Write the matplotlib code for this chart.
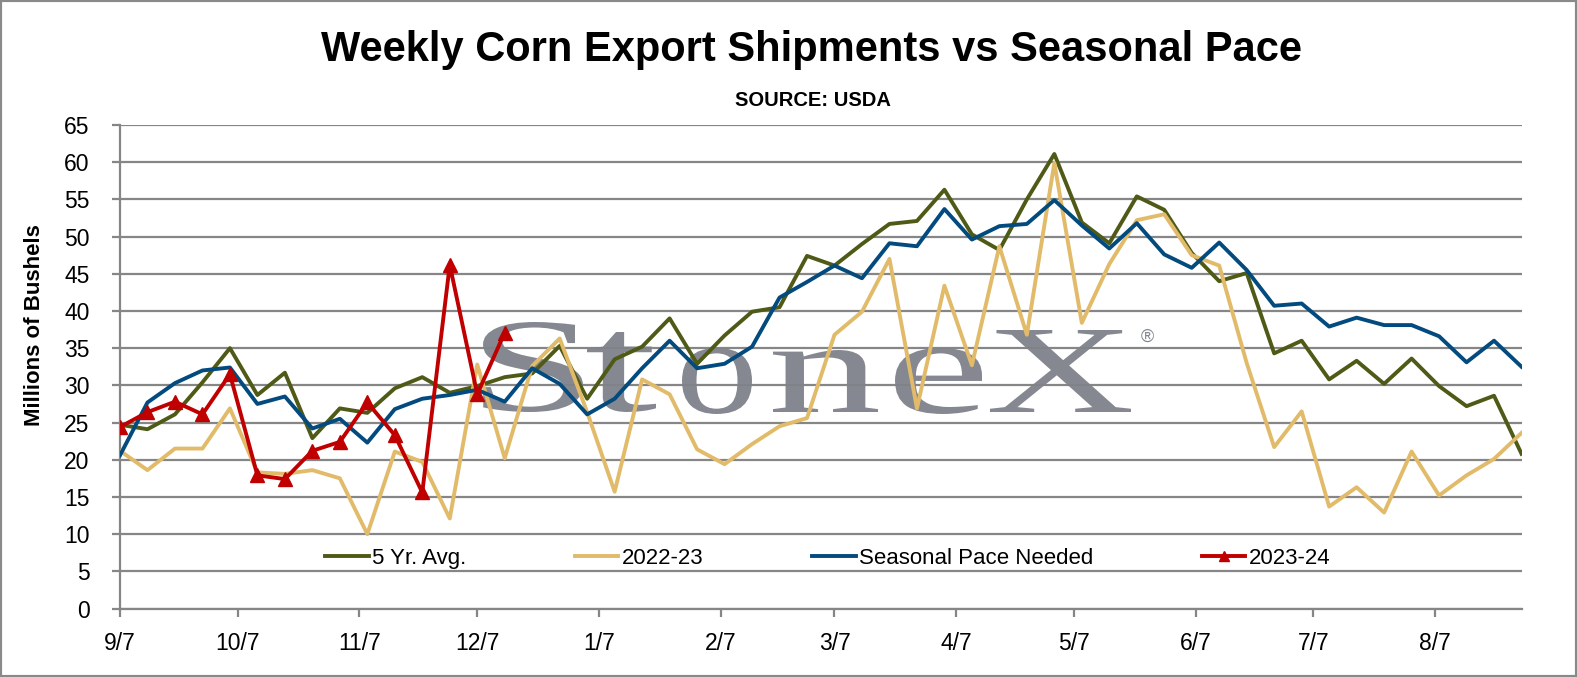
import numpy as np
import pandas as pd
import matplotlib
matplotlib.use("Agg")
import matplotlib.pyplot as plt
import matplotlib.dates as mdates
from matplotlib.textpath import TextPath
from matplotlib.patches import PathPatch, Rectangle
from matplotlib.font_manager import FontProperties
from matplotlib.transforms import Affine2D, IdentityTransform

plt.rcParams["font.family"] = ["Liberation Sans", "DejaVu Sans"]

# weekly marketing-year dates, 9/7 .. 8/29
weeks = pd.date_range("2023-09-07", periods=52, freq="7D")

avg_5yr = [24.7, 24.1, 26.1, 30.4, 35.0, 28.7, 31.7, 22.9, 26.9, 26.3,
           29.6, 31.1, 29.0, 29.9, 31.1, 31.6, 35.3, 28.2, 33.5, 35.2,
           39.0, 32.9, 36.7, 39.9, 40.5, 47.4, 46.1, 49.0, 51.7, 52.1,
           56.3, 50.3, 48.2, 55.0, 61.1, 51.9, 49.1, 55.4, 53.6, 47.8,
           44.0, 45.1, 34.3, 36.0, 30.8, 33.3, 30.2, 33.6, 29.9, 27.2,
           28.6, 20.8]

my_2022_23 = [21.2, 18.6, 21.5, 21.5, 26.9, 18.3, 18.1, 18.6, 17.5, 10.0,
              21.1, 19.7, 12.1, 32.8, 20.2, 32.6, 36.3, 26.4, 15.7, 30.8,
              28.8, 21.4, 19.4, 22.1, 24.5, 25.6, 36.8, 39.9, 47.0, 26.9,
              43.4, 32.7, 48.7, 36.8, 59.9, 38.4, 46.3, 52.2, 53.0, 47.5,
              46.1, 33.0, 21.7, 26.5, 13.7, 16.3, 12.9, 21.1, 15.2, 17.9,
              20.1, 23.6]

pace_needed = [20.6, 27.7, 30.3, 32.0, 32.4, 27.5, 28.5, 24.2, 25.5, 22.3,
               26.8, 28.2, 28.7, 29.4, 27.8, 32.3, 30.2, 26.1, 28.2, 32.3,
               36.0, 32.3, 32.9, 35.2, 41.8, 43.9, 46.1, 44.4, 49.1, 48.7,
               53.7, 49.6, 51.4, 51.7, 54.9, 51.5, 48.4, 51.8, 47.6, 45.8,
               49.2, 45.5, 40.7, 41.0, 37.9, 39.1, 38.1, 38.1, 36.6, 33.1,
               36.0, 32.5]

my_2023_24 = [24.4, 26.4, 27.8, 26.1, 31.5, 17.9, 17.4, 21.2, 22.4, 27.7,
              23.3, 15.6, 46.2, 28.8, 37.1]

W, H = 1577, 677
fig = plt.figure(figsize=(W / 100, H / 100), dpi=100)
ax = fig.add_axes([120 / W, 1 - 608.5 / H, (1521.5 - 120) / W, (608.5 - 125) / H])

grid_c = "#868686"
ax.set_ylim(0, 65)
ax.set_yticks(np.arange(0, 66, 5))
ax.set_xlim(weeks[0], weeks[-1])
ax.xaxis.set_major_locator(mdates.MonthLocator(bymonthday=7))
ax.xaxis.set_major_formatter(plt.FuncFormatter(
    lambda v, p: "{}/{}".format(mdates.num2date(v).month, mdates.num2date(v).day)))

ax.grid(axis="y", color=grid_c, linewidth=1.6, zorder=0)
ax.set_axisbelow(True)
for s in ["top", "right"]:
    ax.spines[s].set_visible(False)
for s in ["left", "bottom"]:
    ax.spines[s].set_color(grid_c)
    ax.spines[s].set_linewidth(1.6)
ax.tick_params(axis="y", length=6, width=1.6, color=grid_c, pad=16, labelsize=16.5)
ax.tick_params(axis="x", length=6, width=1.6, color=grid_c, pad=11, labelsize=16.5)

lw = 2.8
ax.plot(weeks, avg_5yr, color="#4F5A16", lw=lw, label="5 Yr. Avg.", zorder=3)
ax.plot(weeks, my_2022_23, color="#E2BB6A", lw=lw, label="2022-23", zorder=3)
ax.plot(weeks, pace_needed, color="#034A7E", lw=lw, label="Seasonal Pace Needed", zorder=3)
ax.plot(weeks[:len(my_2023_24)], my_2023_24, color="#C00000", lw=lw,
        marker="^", markersize=10, label="2023-24", zorder=4)

ax.legend(loc="center", bbox_to_anchor=(0.505, 0.104), ncol=4, frameon=False,
          fontsize=16, handlelength=1.95, handletextpad=0.15, columnspacing=4.9,
          markerscale=0.7)

# StoneX watermark, letter by letter (pixel coords)
wm_c = "#7F828A"
serif = FontProperties(family="Liberation Serif")
letters = [("S", 483, 583, 412, 90), ("t", 587, 656, 412, 80),
           ("o", 682, 752, 414, 66), ("n", 773, 878, 412, 62),
           ("e", 895, 982, 414, 66), ("X", 990, 1131, 412, 82)]
for ch, x0, x1, yb, hh in letters:
    tp = TextPath((0, 0), ch, size=100, prop=serif)
    bb = tp.get_extents()
    tr = (Affine2D().translate(-bb.x0, -bb.y0)
          .scale((x1 - x0) / bb.width, hh / bb.height)
          .translate(x0, H - yb))
    ax.add_patch(PathPatch(tr.transform_path(tp), transform=IdentityTransform(),
                           facecolor=wm_c, edgecolor="none", alpha=0.95,
                           zorder=2, clip_on=False))
fig.text(1147 / W, 1 - 337 / H, "\u00ae", color=wm_c, fontsize=13,
         ha="center", va="center")

fig.text(811 / W, 1 - 50 / H, "Weekly Corn Export Shipments vs Seasonal Pace",
         ha="center", va="center", fontsize=30, fontweight="bold")
fig.text(813 / W, 1 - 100 / H, "SOURCE: USDA", ha="center", va="center",
         fontsize=14.5, fontweight="bold")
fig.text(35 / W, 1 - 325 / H, "Millions of Bushels", rotation=90,
         ha="center", va="center", fontsize=16, fontweight="bold")

fig.patches.append(Rectangle((0, 0), 1, 1, transform=fig.transFigure,
                             fill=False, edgecolor="#898989", linewidth=3))

fig.savefig("out.png", dpi=100)
